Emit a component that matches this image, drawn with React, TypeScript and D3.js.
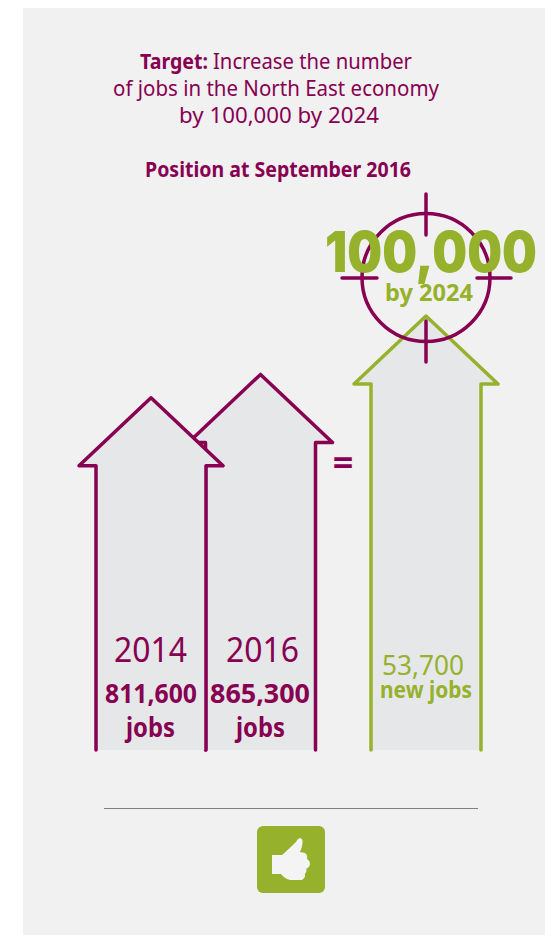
import React from "react";
import * as d3 from "d3";

const categories = ["2014", "2016", "new"];
const arrowLevels = [811600, 865300, 1000000];
const yearLabels = ["2014", "2016"];
const jobLabels = ["811,600", "865,300"];
const newJobsLabel = "53,700";
const targetLabel = "100,000";

const PURPLE = "#870051";
const GREEN = "#96b12c";
const FILL = "#e6e7e9";
const FONT = "'Noto Sans', 'Open Sans', sans-serif";

const yScale = d3.scaleLinear().domain([0, 1000000]).range([750, 316]);
const xScale = d3.scaleOrdinal<string, number>().domain(categories).range([151, 260.5, 426]);

function arrowPath(cx: number, top: number) {
  const p = d3.path();
  const shaft = 55;
  const head = 72;
  const headH = 68;
  p.moveTo(cx - shaft, 750);
  p.lineTo(cx - shaft, top + headH);
  p.lineTo(cx - head, top + headH);
  p.lineTo(cx, top);
  p.lineTo(cx + head, top + headH);
  p.lineTo(cx + shaft, top + headH);
  p.lineTo(cx + shaft, 750);
  return p.toString();
}

type TProps = { x1: number; x2: number; y: number; size: number; weight: number; color: string; children: React.ReactNode };
function T({ x1, x2, y, size, weight, color, children }: TProps) {
  return (
    <text x={x1} y={y} fontSize={size} fontWeight={weight} fill={color} fontFamily={FONT}
      textLength={x2 - x1} lengthAdjust="spacingAndGlyphs">{children}</text>
  );
}

export default function App() {
  const order = [1, 0, 2];
  return (
    <svg width={545} height={935} style={{ position: "absolute", left: 0, top: 0 }}>
      <rect x={23} y={8} width={522} height={927} fill="#f1f1f1" />

      <T x1={140} x2={208} y={68.5} size={22} weight={700} color={PURPLE}>Target:</T>
      <T x1={213} x2={412} y={68.5} size={22} weight={400} color={PURPLE}>Increase the number</T>
      <T x1={113} x2={439} y={95.5} size={22} weight={400} color={PURPLE}>of jobs in the North East economy</T>
      <T x1={179} x2={379} y={122.5} size={22} weight={400} color={PURPLE}>by 100,000 by 2024</T>
      <T x1={145} x2={411} y={177} size={22} weight={700} color={PURPLE}>Position at September 2016</T>

      {order.map((i) => {
        const c = categories[i];
        return (
          <path key={c} d={arrowPath(xScale(c), yScale(arrowLevels[i]))} fill={FILL}
            stroke={i === 2 ? GREEN : PURPLE} strokeWidth={3.5} strokeLinejoin="round" strokeLinecap="round" />
        );
      })}

      <circle cx={426} cy={277.5} r={64} fill="none" stroke={PURPLE} strokeWidth={3.5} />
      <g stroke={PURPLE} strokeWidth={3.5} strokeLinecap="round">
        <line x1={426} x2={426} y1={194} y2={235} />
        <line x1={426} x2={426} y1={321} y2={362} />
        <line x1={342} x2={377} y1={278} y2={278} />
        <line x1={477} x2={511} y1={278} y2={278} />
      </g>

      <text x={325} y={272} fontSize={56} fontWeight={900} fill={GREEN} fontFamily="Inter, 'Noto Sans', sans-serif"
        textLength={212} lengthAdjust="spacingAndGlyphs">{targetLabel}</text>
      <T x1={385} x2={473} y={301} size={23} weight={700} color={GREEN}>by 2024</T>

      <text x={343} y={475} fontSize={36} fontWeight={700} fill={PURPLE} fontFamily={FONT} textAnchor="middle">=</text>

      <T x1={114} x2={187} y={661.5} size={35} weight={400} color={PURPLE}>{yearLabels[0]}</T>
      <T x1={226} x2={299} y={661.5} size={35} weight={400} color={PURPLE}>{yearLabels[1]}</T>
      <T x1={105} x2={197} y={702.5} size={27} weight={700} color={PURPLE}>{jobLabels[0]}</T>
      <T x1={210} x2={310} y={702.5} size={27} weight={700} color={PURPLE}>{jobLabels[1]}</T>
      <T x1={126} x2={175} y={736.5} size={27} weight={700} color={PURPLE}>jobs</T>
      <T x1={236} x2={285} y={736.5} size={27} weight={700} color={PURPLE}>jobs</T>
      <T x1={382} x2={464} y={675} size={27} weight={400} color={GREEN}>{newJobsLabel}</T>
      <T x1={380} x2={472} y={698} size={23} weight={700} color={GREEN}>new jobs</T>

      <line x1={104} x2={478} y1={808.5} y2={808.5} stroke="#808080" strokeWidth={1} />
      <rect x={257} y={826} width={68} height={67} rx={6} fill={GREEN} />
      <path d="M272 855 L282 855 Q290 848 296 842 Q298 838 300.5 838 Q303 839 302.5 843 Q302 848 300 852 L305 853 Q308 855 307 859 Q311 861 309.5 866 Q308 868 306.5 868.5 Q307 872 305 873.5 Q305.5 878 302 880 L290 880 Q285 879 281 874 L272 874 Z" fill="#f4f4f4" />
    </svg>
  );
}
